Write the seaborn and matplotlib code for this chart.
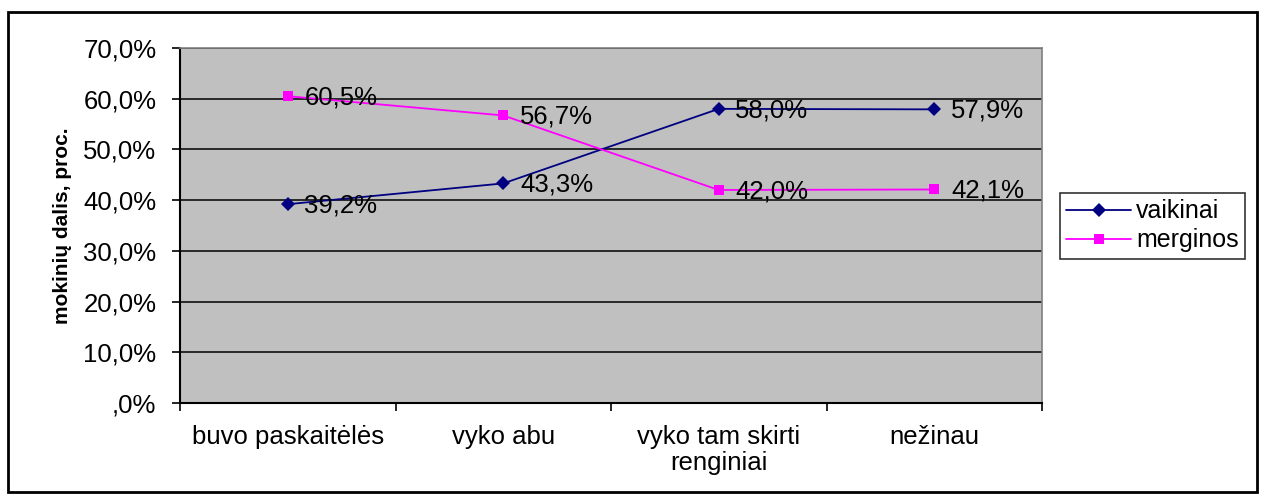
import numpy as np
import pandas as pd
import matplotlib
matplotlib.use("Agg")
import matplotlib.pyplot as plt
import matplotlib.ticker as mticker
from matplotlib.patches import Rectangle
import seaborn as sns

categories = ["buvo paskaitėlės", "vyko abu", "vyko tam skirti\nrenginiai", "nežinau"]
vaikinai = [39.2, 43.3, 58.0, 57.9]
merginos = [60.5, 56.7, 42.0, 42.1]
y_ticks = [0, 10, 20, 30, 40, 50, 60, 70]

sns.set_style("white")
plt.rcParams["font.family"] = ["Liberation Sans", "DejaVu Sans"]
plt.rcParams["text.color"] = "black"
plt.rcParams["xtick.color"] = "black"
plt.rcParams["ytick.color"] = "black"
plt.rcParams["axes.labelcolor"] = "black"

df = pd.DataFrame({
    "pos": list(range(len(categories))) * 2,
    "value": vaikinai + merginos,
    "series": ["vaikinai"] * len(vaikinai) + ["merginos"] * len(merginos),
})

fig = plt.figure(figsize=(12.62, 4.94), dpi=100)
ax = fig.add_axes([180 / 1262, 1 - 403 / 494, 862 / 1262, 355 / 494])
ax.set_facecolor("#C0C0C0")

palette = {"vaikinai": "#000080", "merginos": "#FF00FF"}
sns.lineplot(data=df, x="pos", y="value", hue="series", style="series",
             markers={"vaikinai": "D", "merginos": "s"}, dashes=False,
             palette=palette, linewidth=1.3, markersize=7.5,
             markeredgewidth=0, ax=ax, legend=True)

# data labels
for vals in (vaikinai, merginos):
    for i, v in enumerate(vals):
        ax.annotate(f"{v:.1f}%".replace(".", ","), (i, v), xytext=(12, -1),
                    textcoords="offset points", ha="left", va="center", fontsize=18.5)

ax.set_xlim(-0.5, len(categories) - 0.5)
ax.set_ylim(0, 70)

# category ticks at boundaries, labels at centers
ax.set_xticks(np.arange(-0.5, len(categories), 1.0))
ax.set_xticklabels([])
ax.set_xticks(np.arange(len(categories)), minor=True)
ax.set_xticklabels(categories, minor=True, fontsize=18.5, linespacing=1.1)
ax.tick_params(axis="x", which="major", direction="out", length=6, width=1.2,
               color="black", bottom=True)
ax.tick_params(axis="x", which="minor", length=0, pad=16)

ax.set_yticks(y_ticks)
ax.yaxis.set_major_formatter(mticker.FuncFormatter(
    lambda v, p: ",0%" if v == 0 else f"{v:.1f}%".replace(".", ",")))
ax.tick_params(axis="y", direction="out", length=6, width=1.2, color="black",
               left=True, labelsize=18.5, pad=11)

ax.grid(axis="y", color="black", linewidth=1.1)
ax.set_axisbelow(True)
ax.set_xlabel("")
ax.set_ylabel("mokinių dalis, proc.", fontsize=15, fontweight="bold", labelpad=8)

for side in ("left", "bottom"):
    ax.spines[side].set_color("black")
    ax.spines[side].set_linewidth(1.5)
for side in ("top", "right"):
    ax.spines[side].set_color("#808080")
    ax.spines[side].set_linewidth(1.2)

# legend outside the plot area
handles, labels = ax.get_legend_handles_labels()
ax.legend_.remove()
leg = fig.legend(handles, labels, loc="center left",
                 bbox_to_anchor=(1060 / 1262, 1 - 226 / 494), fontsize=18,
                 frameon=True, fancybox=False, shadow=False, handlelength=2.6,
                 handletextpad=0.2, borderpad=0.25, labelspacing=0.2,
                 borderaxespad=0)
leg.get_frame().set_edgecolor("black")
leg.get_frame().set_linewidth(1.2)

# outer chart border
fig.patches.append(Rectangle((8 / 1262, 2 / 494), 1249 / 1262, 480 / 494,
                             transform=fig.transFigure, fill=False,
                             edgecolor="black", linewidth=2))

fig.savefig("out.png", dpi=100)
